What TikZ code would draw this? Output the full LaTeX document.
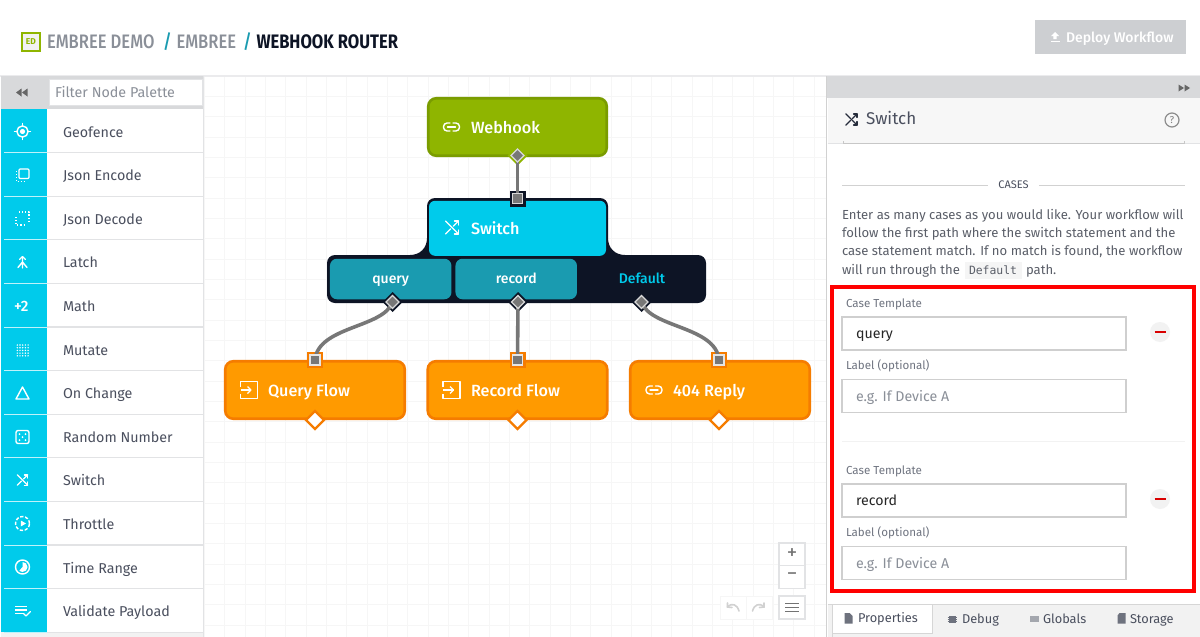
\documentclass[tikz,border=0pt]{standalone}
\usepackage{fontspec}
\setmainfont{Fira Sans}
\setmonofont{DejaVu Sans Mono}
\newfontfamily\condf[FakeStretch=0.85]{Fira Sans Medium}
\newfontfamily\condb[FakeStretch=0.85]{Fira Sans}
\newfontfamily\medf{Fira Sans Medium}
\usetikzlibrary{calc,shapes.geometric}
\definecolor{cy}{HTML}{00CBEB}
\definecolor{gbar}{HTML}{D8D9DB}
\definecolor{ink}{HTML}{4A4F5E}
\definecolor{sep}{HTML}{E2E3E5}
\definecolor{gridc}{HTML}{F6F6F6}
\definecolor{grn}{HTML}{8FB500}
\definecolor{grnd}{HTML}{7A9C00}
\definecolor{org}{HTML}{FF9A00}
\definecolor{orgd}{HTML}{F57C00}
\definecolor{drk}{HTML}{0D1425}
\definecolor{tl}{HTML}{1A9BB0}
\definecolor{wire}{HTML}{777777}
\definecolor{gtxt}{HTML}{8A8F98}
\definecolor{lbl}{HTML}{6F7480}
\definecolor{inb}{HTML}{CFCFCF}
\definecolor{para}{HTML}{5A5E68}
\definecolor{tabbg}{HTML}{F2F2F2}
\definecolor{dep}{HTML}{CDCFD2}
\tikzset{
 x=1pt,y=-1pt,
 tx/.style={anchor=base west,inner sep=0pt,outer sep=0pt},
 palette/.style={tx,text=ink,font=\fontsize{14.3}{17}\selectfont},
 flow/.style={tx,text=white,font=\medf\fontsize{16.2}{19}\selectfont},
 ico/.style={draw=white,line width=1.4pt,line cap=round,line join=round},
 inbox/.style={draw=inb,line width=1.6pt,fill=white},
 wireline/.style={draw=wire,line width=3.6pt},
 caselbl/.style={tx,text=lbl,font=\fontsize{11.6}{14}\selectfont},
 caseval/.style={tx,text=black!85,font=\fontsize{14.2}{17}\selectfont},
 caseph/.style={tx,text=gtxt,font=\fontsize{14.2}{17}\selectfont},
 ptext/.style={tx,text=para,font=\fontsize{13.1}{16}\selectfont},
 tabt/.style={tx,text=ink,font=\fontsize{12.8}{16}\selectfont},
 crumb/.style={tx,font=\condf\fontsize{19.5}{22}\selectfont},
 zbox/.style={draw=sep,line width=1.2pt,fill=white},
 brlabel/.style={inner sep=0pt,text height=10pt,text depth=3pt,font=\medf\fontsize{14}{17}\selectfont},
 brbox/.style={brlabel,fill=tl,rounded corners=7pt,minimum width=121.5pt,minimum height=40.5pt,text=white},
}
\newcommand{\icoLink}[3]{\begin{scope}[shift={(#1,#2)},ico,draw=#3]
\draw[rounded corners=3.6pt] (-1.5,-4)--(-8,-4)--(-8,4)--(-1.5,4);
\draw[rounded corners=3.6pt] (1.5,-4)--(8,-4)--(8,4)--(1.5,4);
\draw (-4,0)--(4,0);\end{scope}}
\newcommand{\icoShuf}[4]{\begin{scope}[shift={(#1,#2)},scale=#4,ico,draw=#3]
\draw (-6.5,-6.5)--(6.5,6.5);\draw (6.5,-6.5)--(1.3,-1.3);\draw (-6.5,6.5)--(-1.3,1.3);
\draw (2.5,-6.5)--(6.5,-6.5)--(6.5,-2.5);\draw (2.5,6.5)--(6.5,6.5)--(6.5,2.5);\end{scope}}
\newcommand{\icoExit}[2]{\begin{scope}[shift={(#1,#2)},ico,line cap=butt]
\draw (-8.5,-3.5)--(-8.5,-8.5)--(8.5,-8.5)--(8.5,8.5)--(-8.5,8.5)--(-8.5,3.5);
\draw (-8.5,0)--(2,0);\draw (-1.5,-3.5)--(2,0)--(-1.5,3.5);\end{scope}}
\begin{document}
\begin{tikzpicture}
\useasboundingbox (0,0) rectangle (1200,637);
\fill[white] (0,0) rectangle (1200,637);
% grid
\foreach \i in {0,...,30}{\draw[gridc,line width=.8pt] ({204.3+\i*20.33},76)--({204.3+\i*20.33},637);}
\foreach \i in {0,...,27}{\draw[gridc,line width=.8pt] (204,{76+\i*20.33})--(826,{76+\i*20.33});}
\fill[sep!70!white] (0,75) rectangle (1200,77);
% header
\node[draw=grn,line width=2pt,fill=black!5,minimum width=18pt,minimum height=18pt,inner sep=0pt,text=grn,font=\fontsize{8.5}{10}\selectfont\bfseries] (logo) at (31,41.5) {ED};
\node[crumb,text=gtxt] (c1) at (47,48) {EMBREE DEMO};
\node[crumb,text=tl] (s1) at (163,48) {/};
\node[crumb,text=gtxt] (c2) at (176.5,48) {EMBREE};
\node[crumb,text=tl] (s2) at (243,48) {/};
\node[crumb,text=drk,font=\condb\bfseries\fontsize{19.5}{22}\selectfont] (c3) at (256.5,48) {WEBHOOK ROUTER};
\node[fill=dep,draw=none,minimum width=151pt,minimum height=34pt,inner sep=0pt] (deploy) at (1110.5,37) {};
\node[tx,text=white,font=\medf\fontsize{14}{17}\selectfont] (deployt) at (1066,42) {Deploy Workflow};
\begin{scope}[shift={(1055,37)}]
\fill[white] (0,-5)--(4,-1)--(1.6,-1)--(1.6,2)--(-1.6,2)--(-1.6,-1)--(-4,-1)--cycle;
\fill[white] (-4.5,3.6) rectangle (4.5,5);
\end{scope}
% left palette
\fill[gbar] (1,76) rectangle (204,109);
\fill[white] (47,109) rectangle (204,632);
\fill[cy] (1,109) rectangle (47,632);
\fill[tabbg] (1,632) rectangle (204,637);
\draw[sep,line width=1.4pt] (203.5,76)--(203.5,637);
\node[draw=sep,line width=1.4pt,fill=white,minimum width=153pt,minimum height=26pt,inner sep=0pt] (filter) at (126,92.5) {};
\node[tx,text=gtxt,font=\fontsize{14.3}{17}\selectfont] (filtert) at (55,97.5) {Filter Node Palette};
\fill[black!60] (16,92.5)--(21.5,88.5)--(21.5,96.5)--cycle (22,92.5)--(27.5,88.5)--(27.5,96.5)--cycle;
\foreach \n/\t [count=\i from 0] in {geo/Geofence,jenc/Json Encode,jdec/Json Decode,latch/Latch,math/Math,mut/Mutate,chg/On Change,rnd/Random Number,swi/Switch,thr/Throttle,tim/Time Range,val/Validate Payload}{
  \node[palette] (p\n) at (63,{137+\i*43.6}) {\t};
  \draw[sep,line width=1.3pt] (47,{152.6+\i*43.6})--(203,{152.6+\i*43.6});
  \draw[white!75!cy,line width=.8pt] (4,{152.6+\i*43.6})--(47,{152.6+\i*43.6});
}
% palette icons
\begin{scope}[ico]
\draw (22.5,131.5) circle (5.6pt); \fill[white] (22.5,131.5) circle (2.6pt);
\draw (22.5,123.5)--(22.5,125.5) (22.5,137.5)--(22.5,139.5) (14.5,131.5)--(16.5,131.5) (28.5,131.5)--(30.5,131.5);
\draw[rounded corners=1pt,line width=1.2pt] (19,169)rectangle(29,178.5);
\draw[dotted,line width=1pt,line cap=butt] (16,171)--(16,181.5)--(26,181.5);
\draw[dotted,line width=1.1pt,line cap=butt] (19,212)--(29,212)--(29,222) (16,217)--(16,225)--(26,225);
\draw (22.5,257)--(22.5,268) (22.5,262)--(18,267.5) (22.5,262)--(27,267.5);
\draw (19.5,259.5)--(22.5,256.5)--(25.5,259.5);
\node[tx,text=white,font=\medf\fontsize{15}{17}\selectfont] (plus2) at (14,311.5) {+2};
\foreach \a in {0,1,2,3,4}\foreach \b in {0,1,2,3,4}{\fill[white] ({17.3+\a*2.7},{345+\b*2.7}) circle (.8pt);}
\draw (22.5,387)--(29,399)--(16,399)--cycle;
\draw[rounded corners=2pt] (16,430.5)rectangle(29,443.5);
\fill[white] (19.5,434)circle(1pt) (25.5,434)circle(1pt) (22.5,437)circle(1pt) (19.5,440)circle(1pt) (25.5,440)circle(1pt);
\draw[dash pattern=on 3.3pt off 1.7pt,line cap=butt] (22.5,523.5) circle (7pt);
\fill[white] (20.8,520.5)--(26,523.5)--(20.8,526.5)--cycle;
\draw (22.5,567) circle (7pt);
\fill[white] (22.5,567)--(22.5,562)arc(90:-130:5pt)--cycle;
\draw[line width=1.2pt,line cap=butt] (15,606.5)--(27,606.5) (15,610)--(27,610) (15,613.5)--(23,613.5);
\draw[line width=1.2pt] (23.5,613.5)--(26,616)--(30.5,611.5);
\end{scope}
\icoShuf{22.5}{480}{white}{.8}
% webhook node
\node[draw=grnd,fill=grn,line width=2.6pt,rounded corners=8pt,minimum width=178.5pt,minimum height=57.5pt,inner sep=0pt] (webhook) at (517.5,127) {};
\icoLink{451.5}{127}{white}
\node[flow] (webhookt) at (471,133) {Webhook};
% switch
\path[fill=drk] (327,263) arc[start angle=180,end angle=90,radius=8pt] -- (410,255) .. controls (420,255) and (427,248) .. (427,238) -- (427,206) arc[start angle=180,end angle=90,radius=8pt] -- (600,198) arc[start angle=90,end angle=0,radius=8pt] -- (608,238) .. controls (608,248) and (615,255) .. (625,255) -- (698,255) arc[start angle=90,end angle=0,radius=8pt] -- (706,295) arc[start angle=0,end angle=-90,radius=8pt] -- (335,303) arc[start angle=270,end angle=180,radius=8pt] -- cycle;
\node[fill=cy,rounded corners=6pt,minimum width=177pt,minimum height=55pt,inner sep=0pt] (switch) at (517.5,228.3) {};
\icoShuf{452}{227.5}{white}{1}
\node[flow] (switcht) at (471,234) {Switch};
\node[brbox] (qry) at (390.7,279) {};
\node[brbox] (rec) at (516.2,279) {};
\node[brlabel,text=white] (qryt) at (390.7,280) {query};
\node[brlabel,text=white] (rect) at (516.2,280) {record};
\node[brlabel,text=cy] (def) at (642,280) {Default};
% orange nodes
\foreach \n/\cx in {qf/315,rf/517.5,nf/720}{
 \node[draw=orgd,fill=org,line width=2.6pt,rounded corners=8pt,minimum width=179.5pt,minimum height=57.5pt,inner sep=0pt] (\n) at (\cx,390) {};
}
\icoExit{249}{390}
\icoExit{451.5}{390}
\icoLink{654}{390}{white}
\node[flow] (qft) at (268,396) {Query Flow};
\node[flow] (rft) at (471,396) {Record Flow};
\node[flow] (nft) at (673,396) {404 Reply};
% ports
\coordinate (oW) at (517.5,155.5);
\coordinate (iS) at (517.5,198.5);
\coordinate (oQ) at (392.5,302);
\coordinate (oR) at (518,302);
\coordinate (oD) at (641.5,302);
\coordinate (iQ) at (315,360);
\coordinate (iR) at (517.5,360);
\coordinate (iN) at (719,360);
\fill[grn] (oW)+(-10,0)--+(0,-10)--+(10,0)--+(0,10)--cycle;
\foreach \c in {oQ,oR,oD}{\fill[drk] (\c)+(-10,0)--+(0,-10)--+(10,0)--+(0,10)--cycle;}
\fill[drk] (iS)+(-8,-8) rectangle +(8,8);
\foreach \c in {iQ,iR,iN}{\fill[orgd] (\c)+(-8,-8) rectangle +(8,8);}
\draw[wireline] (oW)--(iS);
\draw[wireline] (oQ) .. controls (384,328) and (318,326) .. (iQ);
\draw[wireline] (oR)--(iR);
\draw[wireline] (oD) .. controls (650,328) and (716,326) .. (iN);
\foreach \c in {oW,oQ,oR,oD}{\draw[white!85!black,fill=wire,line width=1.1pt] (\c)+(-6.5,0)--+(0,-6.5)--+(6.5,0)--+(0,6.5)--cycle;}
\draw[white!85!black,fill=wire,line width=1.1pt] (iS)+(-5,-5) rectangle +(5,5);
\foreach \c in {iQ,iR,iN}{\draw[white!90!black,fill=wire,line width=1.1pt] (\c)+(-5,-5) rectangle +(5,5);}
\foreach \n/\cx in {qf/315,rf/517.5,nf/719}{
 \node[draw=orgd,fill=white,line width=2.4pt,diamond,minimum width=19pt,minimum height=19pt,inner sep=0pt] (d\n) at (\cx,420) {};
}
% zoom controls
\node[zbox,minimum width=26pt,minimum height=23pt,inner sep=0pt,text=black!55,font=\fontsize{21}{22}\selectfont] (zin) at (792,554.5) {+};
\node[zbox,minimum width=26pt,minimum height=23pt,inner sep=0pt,text=black!55,font=\fontsize{21}{22}\selectfont] (zout) at (792,577) {−};
\node[zbox,minimum width=26pt,minimum height=23pt,inner sep=0pt] (zmenu) at (792,607.5) {};
\draw[black!55,line width=1.3pt] (785,603.5)--(799,603.5) (785,607.5)--(799,607.5) (785,611.5)--(799,611.5);
\draw[gridc,line width=1pt,fill=white] (720,596) rectangle (746,619) (746,596) rectangle (772,619);
\draw[black!18,line width=1.6pt,line cap=round] (739,611) .. controls (737,604) and (732,603) .. (727.5,606.5);
\draw[black!18,line width=1.6pt,line cap=round] (727.5,603)--(727.5,607)--(732,607.5);
\draw[black!18,line width=1.6pt,line cap=round] (752.5,611) .. controls (754.5,604) and (759.5,603) .. (764,606.5);
\draw[black!18,line width=1.6pt,line cap=round] (764,603)--(764,607)--(759.5,607.5);
% right panel
\fill[white] (826,76) rectangle (1200,637);
\fill[gbar] (826,76) rectangle (1200,97.5);
\fill[tabbg!60!white] (827.5,97.5) rectangle (1200,143);
\draw[black!18,line width=1.3pt] (826.5,76)--(826.5,637);
\draw[sep,line width=1pt] (827.5,143)--(1200,143);
\draw[black!22,line width=1pt] (843,141)--(843,143.5)--(1184,143.5)--(1184,141);
\fill[black!60] (1184,88)--(1178.5,84.5)--(1178.5,91.5)--cycle (1190,88)--(1184.5,84.5)--(1184.5,91.5)--cycle;
\icoShuf{851.5}{119.5}{drk!90}{.85}
\node[tx,text=ink,font=\fontsize{17}{20}\selectfont] (swt) at (866,124) {Switch};
\draw[black!45,line width=1.2pt] (1172,120) circle (7pt);
\node[inner sep=0pt,text=black!50,font=\fontsize{10}{12}\selectfont] (help) at (1172,120) {?};
\draw[black!18,line width=1pt] (842,185)--(988,185) (1039,185)--(1185,185);
\node[inner sep=0pt,text=ink,font=\fontsize{11}{13}\selectfont] (cases) at (1013.5,184.5) {CASES};
\node[ptext] (l1) at (842,219) {Enter as many cases as you would like. Your workflow will};
\node[ptext] (l2) at (842,237) {follow the first path where the switch statement and the};
\node[ptext] (l3) at (842,255) {case statement match. If no match is found, the workflow};
\node[ptext] (l4) at (842,274.5) {will run through the};
\fill[black!4] (964.5,261.5) rectangle (1022,279);
\node[tx,text=para,font=\ttfamily\fontsize{11.4}{14}\selectfont] (l4c) at (969,274.5) {Default};
\node[ptext] (l4b) at (1026,274.5) {path.};
% case form
\node[caselbl] (ct1) at (846,307) {Case Template};
\node[inbox,minimum width=284pt,minimum height=33pt,inner sep=0pt] (in1) at (984,333.5) {};
\node[caseval] (in1t) at (856,338) {query};
\node[caselbl] (lb1) at (846,369.5) {Label (optional)};
\node[inbox,minimum width=284pt,minimum height=33pt,inner sep=0pt] (in2) at (984,396) {};
\node[caseph] (in2t) at (856,401) {e.g. If Device A};
\draw[black!5,line width=1pt] (842,441)--(1185,441);
\node[caselbl] (ct2) at (846,474) {Case Template};
\node[inbox,minimum width=284pt,minimum height=33pt,inner sep=0pt] (in3) at (984,500.5) {};
\node[caseval] (in3t) at (856,505) {record};
\node[caselbl] (lb2) at (846,536.5) {Label (optional)};
\node[inbox,minimum width=284pt,minimum height=33pt,inner sep=0pt] (in4) at (984,563) {};
\node[caseph] (in4t) at (856,568) {e.g. If Device A};
\foreach \yy in {332,499}{
 \fill[black!5] (1160,\yy) circle (10pt);
 \draw[red!85!black,line width=1.4pt] (1154.5,\yy)--(1165.5,\yy);
}
\draw[red,line width=4.4pt] (832.2,287) rectangle (1194,590.7);
% tabs
\fill[tabbg] (827.5,604) rectangle (1200,637);
\draw[black!16,line width=1pt] (827.5,604.5)--(1200,604.5);
\fill[white] (832.5,604.5) rectangle (932.5,633);
\draw[black!16,line width=1pt] (832.5,637)--(832.5,604.5)--(932.5,604.5)--(932.5,633)--(832.5,633);
\node[tabt] (t1) at (858,622.5) {Properties};
\node[tabt] (t2) at (962,623.5) {Debug};
\node[tabt] (t3) at (1043,623.5) {Globals};
\node[tabt] (t4) at (1130,623.5) {Storage};
\fill[ink!80] (844.5,613)--(849.5,613)--(852.5,616)--(852.5,623.5)--(844.5,623.5)--cycle;
\fill[ink!80] (949,615.5) rectangle (955.5,622.5);
\draw[ink!80,line width=.9pt] (947.5,617)--(957,617) (947.5,619)--(957,619) (947.5,621)--(957,621);
\fill[ink!50] (1029.5,616) rectangle (1038.5,621.5);
\fill[ink!80] (1117.5,615.5)--(1119.5,613)--(1125.5,613)--(1125.5,623.5)--(1117.5,623.5)--cycle;
\end{tikzpicture}
\end{document}
